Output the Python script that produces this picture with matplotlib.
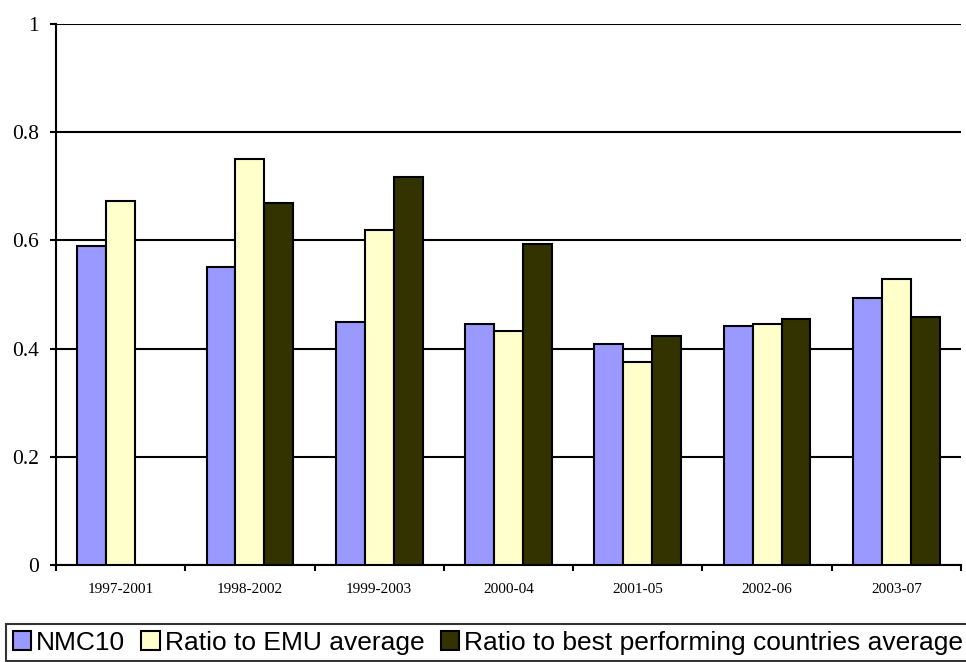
import numpy as np
import matplotlib.pyplot as plt
from matplotlib.ticker import FixedLocator

periods = ["1997-2001", "1998-2002", "1999-2003", "2000-04", "2001-05", "2002-06", "2003-07"]
nmc10 = [0.590, 0.551, 0.450, 0.446, 0.408, 0.442, 0.493]
emu_ratio = [0.672, 0.750, 0.620, 0.432, 0.376, 0.445, 0.529]
best_ratio = [np.nan, 0.670, 0.717, 0.594, 0.423, 0.455, 0.458]

series_names = ["NMC10", "Ratio to EMU average", "Ratio to best performing countries average"]
colors = ["#9999FF", "#FFFFCC", "#333300"]


def main():
    fig = plt.figure(figsize=(9.66, 6.62), dpi=100)
    ax = fig.add_axes([0.058, 0.1465, 0.9368, 0.8172])

    x = np.arange(len(periods))
    w = 0.224
    for i, (vals, name, c) in enumerate(zip([nmc10, emu_ratio, best_ratio], series_names, colors)):
        ax.bar(x + (i - 1) * w, vals, width=w, color=c, edgecolor="black",
               linewidth=1.5, label=name, zorder=3)

    ax.set_xlim(-0.5, len(periods) - 0.5)
    ax.set_ylim(0, 1)
    ax.set_yticks([0, 0.2, 0.4, 0.6, 0.8, 1.0])
    ax.set_yticklabels(["0", "0.2", "0.4", "0.6", "0.8", "1"])
    ax.yaxis.grid(True, color="black", linewidth=1.5, zorder=0)
    ax.set_axisbelow(True)

    ax.set_xticks(x)
    ax.set_xticklabels(periods)
    ax.xaxis.set_minor_locator(FixedLocator(np.arange(-0.5, len(periods), 1.0)))
    ax.tick_params(axis="x", which="major", length=0, pad=13)
    ax.tick_params(axis="x", which="minor", length=4.5, width=1.5, direction="out")
    ax.tick_params(axis="y", length=4.5, width=1.5, pad=8)

    for lab in ax.get_xticklabels():
        lab.set_fontfamily("Liberation Serif")
        lab.set_fontsize(11)
    for lab in ax.get_yticklabels():
        lab.set_fontfamily("Liberation Serif")
        lab.set_fontsize(15.5)

    for s in ["top", "right"]:
        ax.spines[s].set_visible(False)
    ax.spines["left"].set_linewidth(1.5)
    ax.spines["bottom"].set_linewidth(1.5)

    leg = fig.legend(loc="upper left", bbox_to_anchor=(6 / 966, 1 - 624 / 662),
                     ncol=3, frameon=True, fancybox=False,
                     prop={"family": "Liberation Sans", "size": 19},
                     handlelength=0.7, handleheight=0.7, handletextpad=0.2,
                     columnspacing=0.6, borderpad=0.25, borderaxespad=0)
    leg.get_frame().set_edgecolor("black")
    leg.get_frame().set_linewidth(1.5)

    fig.savefig("out.png", dpi=100)


if __name__ == "__main__":
    main()
